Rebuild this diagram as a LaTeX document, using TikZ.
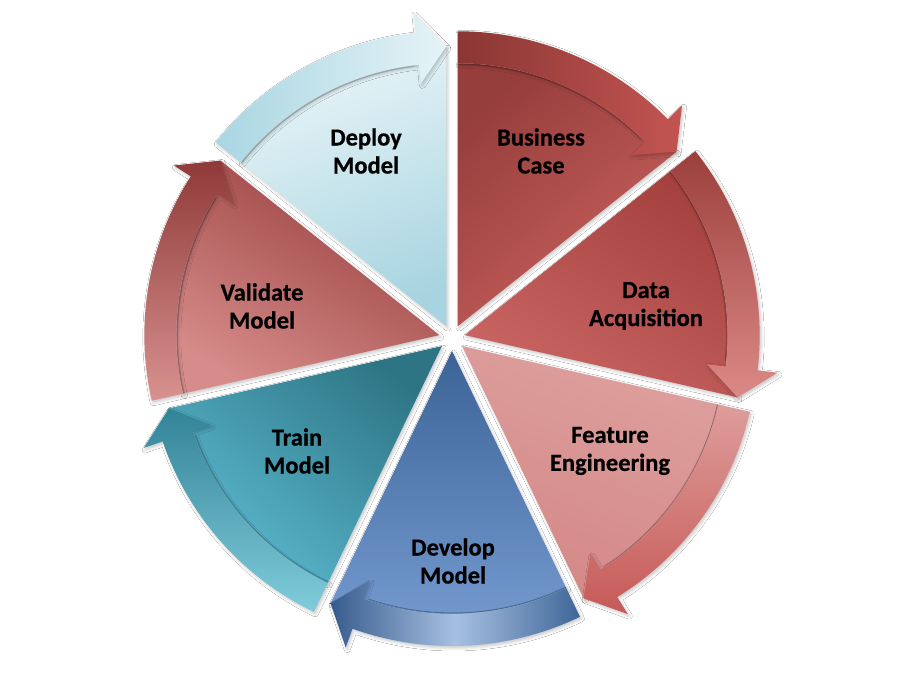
\documentclass[tikz,border=0pt]{standalone}
\usepackage{fontspec}
\setmainfont{Carlito}[BoldFeatures={FakeBold=0.7}]
\usetikzlibrary{shadows.blur}

\definecolor{bizA}{HTML}{963E3C}\definecolor{bizB}{HTML}{C9615E}
\definecolor{bizC}{HTML}{8A3634}\definecolor{bizD}{HTML}{C35551}
\definecolor{datA}{HTML}{A5423F}\definecolor{datB}{HTML}{C96563}
\definecolor{datC}{HTML}{9B3F3C}\definecolor{datD}{HTML}{DC8A87}
\definecolor{feaA}{HTML}{DDA09E}\definecolor{feaB}{HTML}{D48886}
\definecolor{feaC}{HTML}{DE9D9B}\definecolor{feaD}{HTML}{C65A57}
\definecolor{devA}{HTML}{3C6396}\definecolor{devB}{HTML}{7399CF}
\definecolor{devC}{HTML}{365B8C}\definecolor{devD}{HTML}{3F6698}\definecolor{devE}{HTML}{A7C0E2}
\definecolor{trnA}{HTML}{2D7585}\definecolor{trnB}{HTML}{5CB9CF}
\definecolor{trnC}{HTML}{338397}\definecolor{trnD}{HTML}{80CCDB}
\definecolor{valA}{HTML}{983F3D}\definecolor{valB}{HTML}{D68C8A}
\definecolor{valC}{HTML}{8F3A38}\definecolor{valD}{HTML}{D89290}
\definecolor{depA}{HTML}{E9F5F8}\definecolor{depB}{HTML}{A7D4E0}
\definecolor{depC}{HTML}{A9D6E2}\definecolor{depD}{HTML}{E6F3F7}

\tikzset{
  wedgeshadow/.style={blur shadow={shadow xshift=1.5pt,shadow yshift=-2pt,
      shadow blur radius=3pt,shadow opacity=22}},
  stagelabel/.style={align=center,text=black,
      font=\fontsize{24.5}{28}\selectfont\bfseries},
  bandedge/.style={black,opacity=0.18,line width=1.2pt},
}

% One exploded wedge of the cycle: #1 = position (0 at the top, clockwise),
% #2 = fill of the wedge, #3 = fill of the curved arrow on its rim.
\newcommand{\cyclewedge}[3]{%
  \pgfmathsetmacro{\wsa}{90-51.428571*#1}%
  \pgfmathsetmacro{\wea}{\wsa-51.428571}%
  \pgfmathsetmacro{\wma}{\wsa-25.714286}%
  \pgfmathsetmacro{\wha}{\wea+6}%
  \begin{scope}[shift={(\wma:13)}]
    \path[wedgeshadow,#2] (0,0) -- (\wsa:263)
      arc[start angle=\wsa,end angle=\wha,radius=263] -- (\wea:280) -- cycle;
    \path[wedgeshadow,#3] (\wsa:263) -- (\wsa:295)
      arc[start angle=\wsa,end angle=\wha,radius=295]
      -- (\wha:315) -- (\wea:280) -- (\wha:244) -- (\wha:263)
      arc[start angle=\wha,end angle=\wsa,radius=263] -- cycle;
    \draw[bandedge] (\wsa:262) arc[start angle=\wsa,end angle=\wha+1,radius=262];
  \end{scope}}

\begin{document}
\begin{tikzpicture}[x=1pt,y=1pt]
  \useasboundingbox (0,0) rectangle (900,675);
  \fill[white] (0,0) rectangle (900,675);

  \begin{scope}[shift={(452,337)}]
    \cyclewedge{0}{top color=bizA,bottom color=bizB,shading angle=40}
                  {left color=bizC,right color=bizD}
    \cyclewedge{1}{top color=datA,bottom color=datB,shading angle=-30}
                  {top color=datC,bottom color=datD}
    \cyclewedge{2}{top color=feaA,bottom color=feaB,shading angle=-20}
                  {top color=feaC,bottom color=feaD}
    \cyclewedge{3}{top color=devA,bottom color=devB}
                  {left color=devC,right color=devD,middle color=devE}
    \cyclewedge{4}{top color=trnA,bottom color=trnB,shading angle=-40}
                  {top color=trnC,bottom color=trnD}
    \cyclewedge{5}{top color=valA,bottom color=valB,shading angle=-30}
                  {top color=valC,bottom color=valD}
    \cyclewedge{6}{top color=depA,bottom color=depB,shading angle=20}
                  {left color=depC,right color=depD}
  \end{scope}

  \node[stagelabel] (business) at (541,524) {Business\\Case};
  \node[stagelabel] (data)     at (646,369) {Data\\Acquisition};
  \node[stagelabel] (feature)  at (610,224) {Feature\\Engineering};
  \node[stagelabel] (develop)  at (453,114) {Develop\\Model};
  \node[stagelabel] (train)    at (297,224) {Train\\Model};
  \node[stagelabel] (validate) at (262,369) {Validate\\Model};
  \node[stagelabel] (deploy)   at (366,524) {Deploy\\Model};
\end{tikzpicture}
\end{document}
